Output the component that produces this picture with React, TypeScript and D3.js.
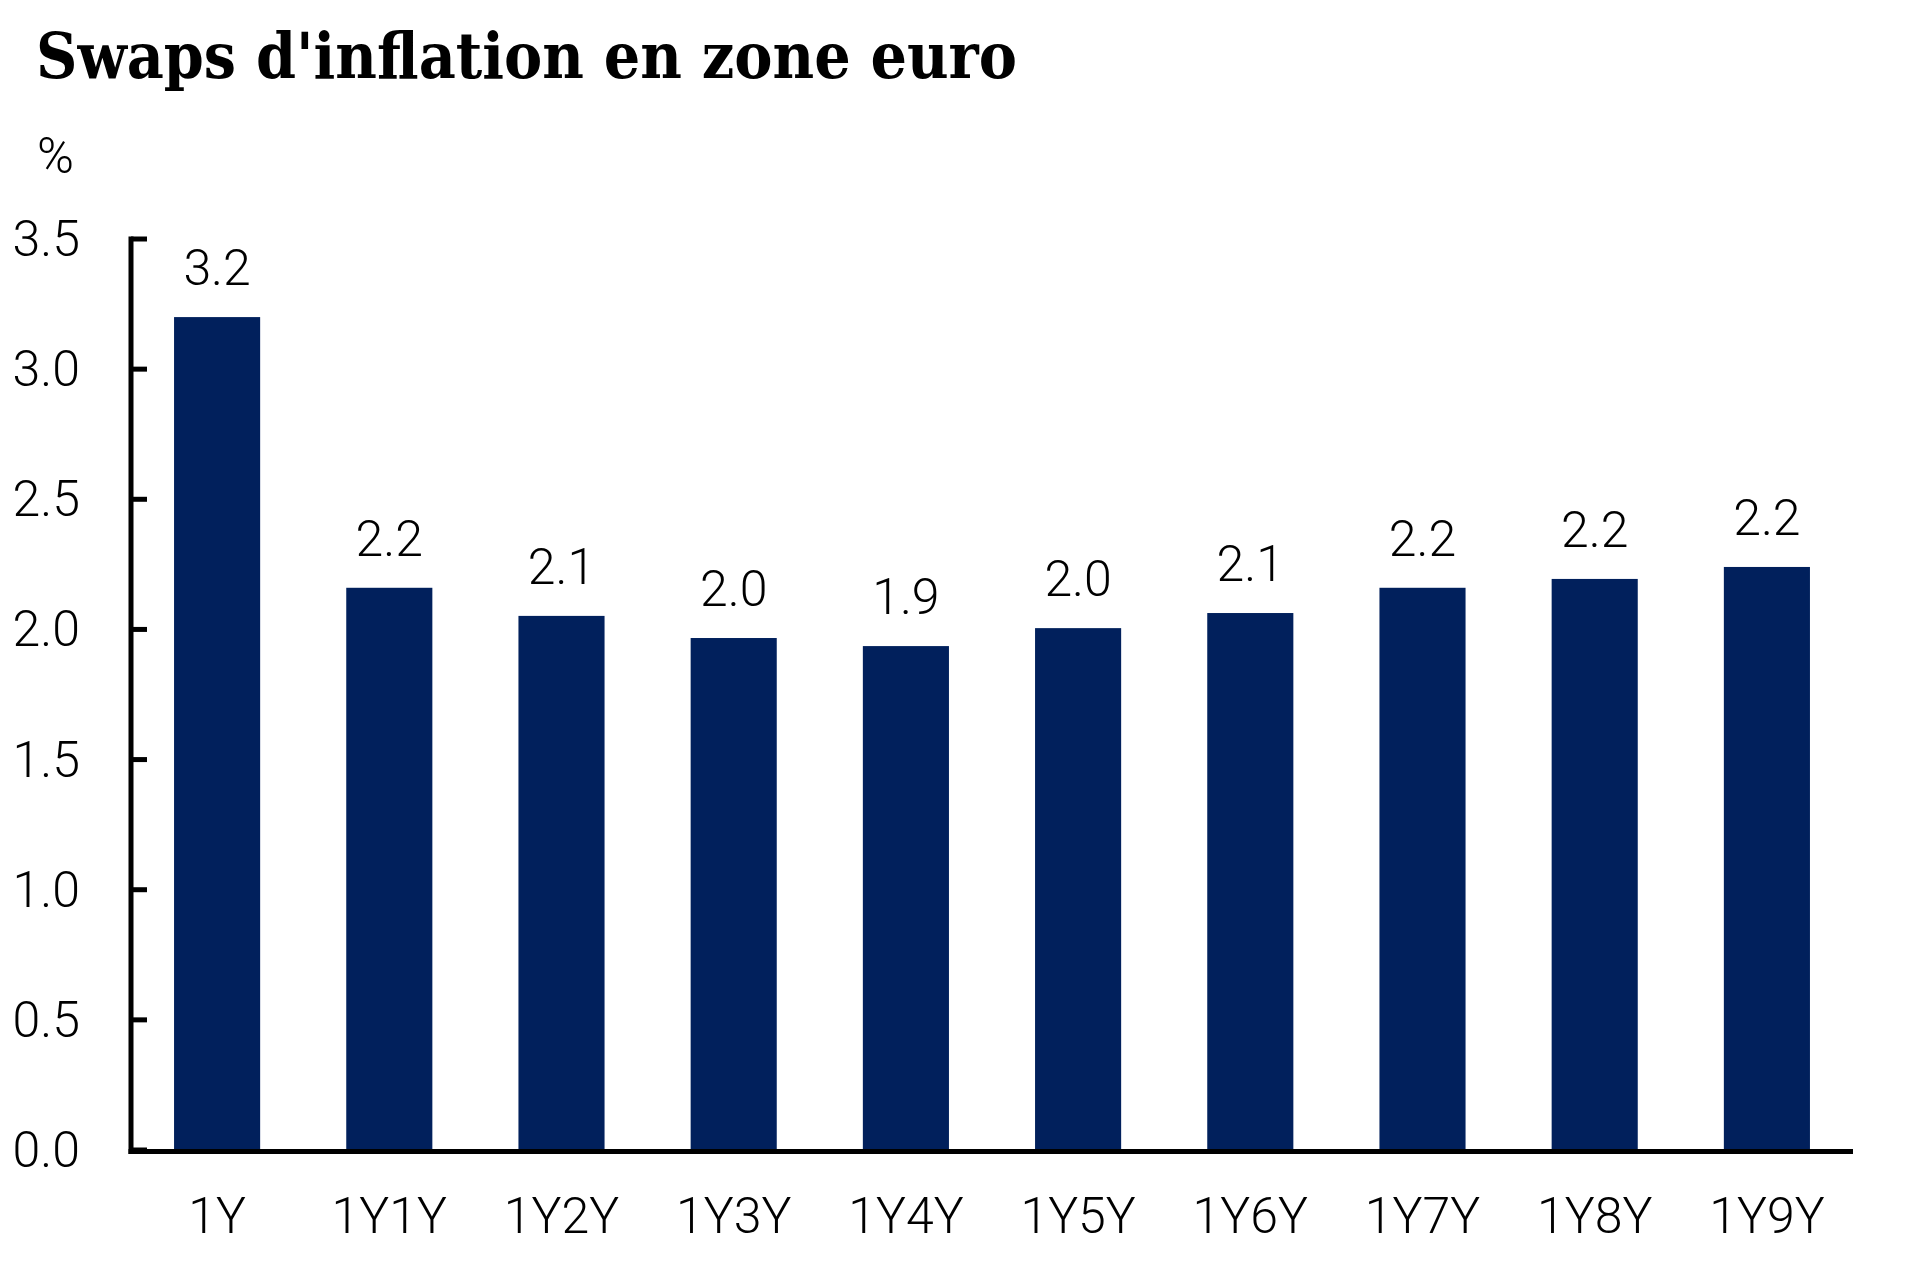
import React from "react";
import * as d3 from "d3";

const categories = ["1Y", "1Y1Y", "1Y2Y", "1Y3Y", "1Y4Y", "1Y5Y", "1Y6Y", "1Y7Y", "1Y8Y", "1Y9Y"];
const values = [3.2, 2.16, 2.052, 1.967, 1.936, 2.005, 2.063, 2.16, 2.194, 2.24];
const yTicks = [0, 0.5, 1.0, 1.5, 2.0, 2.5, 3.0, 3.5];
const title = "Swaps d'inflation en zone euro";
const unitLabel = "%";

const W = 1920;
const H = 1274;
const numFont = "Roboto, 'Liberation Sans', sans-serif";
const barColor = "#01205c";

export default function App() {
  const x = d3.scaleBand<string>().domain(categories).range([131, 1853]).paddingInner(0.5).paddingOuter(0.25);
  const y = d3.scaleLinear().domain([0, 3.5]).range([1150, 239]);
  const fmt = d3.format(".1f");

  return (
    <svg width={W} height={H} style={{ position: "absolute", left: 0, top: 0, background: "#fff" }}>
      <text
        x={36}
        y={78}
        fontFamily="'DejaVu Serif Condensed', 'DejaVu Serif', serif"
        fontWeight="bold"
        fontSize={63}
        textLength={981}
        lengthAdjust="spacingAndGlyphs"
        fill="#000"
      >
        {title}
      </text>
      <text x={37} y={173} fontFamily={numFont} fontWeight={300} fontSize={50} fill="#000">
        {unitLabel}
      </text>

      {categories.map((c, i) => (
        <rect key={c} x={x(c)} y={y(values[i])} width={x.bandwidth()} height={y(0) - y(values[i])} fill={barColor} />
      ))}

      {categories.map((c, i) => (
        <text
          key={"l" + c}
          x={(x(c) as number) + x.bandwidth() / 2}
          y={y(values[i]) - 32}
          textAnchor="middle"
          fontFamily={numFont}
          fontWeight={300}
          fontSize={50}
          fill="#000"
        >
          {fmt(values[i])}
        </text>
      ))}

      {/* y axis */}
      <line x1={131} x2={131} y1={y(3.5) - 2.5} y2={y(0) + 4} stroke="#000" strokeWidth={5} />
      {yTicks.map((t) => (
        <g key={"t" + t}>
          <line x1={131} x2={147} y1={y(t)} y2={y(t)} stroke="#000" strokeWidth={5} />
          <text
            x={80}
            y={y(t)}
            textAnchor="end"
            dominantBaseline="central"
            fontFamily={numFont}
            fontWeight={300}
            fontSize={50}
            fill="#000"
          >
            {fmt(t)}
          </text>
        </g>
      ))}

      {/* x axis */}
      <line x1={128.5} x2={1853} y1={1151.5} y2={1151.5} stroke="#000" strokeWidth={5} />
      {categories.map((c) => (
        <text
          key={"x" + c}
          x={(x(c) as number) + x.bandwidth() / 2}
          y={1233}
          textAnchor="middle"
          fontFamily={numFont}
          fontWeight={300}
          fontSize={50}
          fill="#000"
        >
          {c}
        </text>
      ))}
    </svg>
  );
}
